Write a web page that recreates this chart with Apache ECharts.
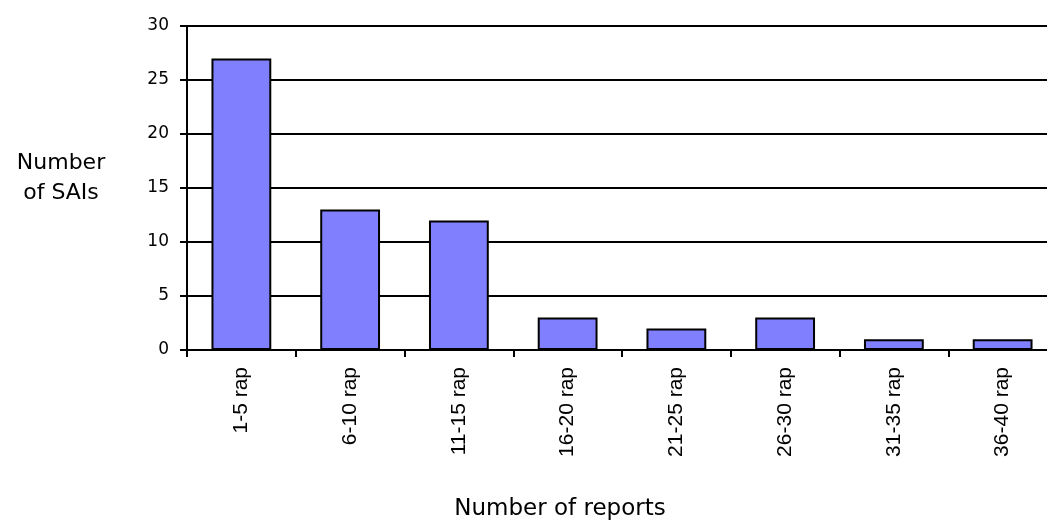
<!DOCTYPE html>
<html>
<head>
<meta charset="utf-8">
<script src="https://cdn.jsdelivr.net/npm/echarts@6/dist/echarts.min.js"></script>
<style>
  html, body { margin: 0; padding: 0; background: #fff; overflow: hidden; }
  #chart { width: 1057px; height: 524px; }
</style>
</head>
<body>
<div id="chart"></div>
<script>
// report ranges and number of SAIs in each
const categories = ['1-5 rap', '6-10 rap', '11-15 rap', '16-20 rap', '21-25 rap', '26-30 rap', '31-35 rap', '36-40 rap'];
const counts = [27, 13, 12, 3, 2, 3, 1, 1];

const chart = echarts.init(document.getElementById('chart'));
const wide = '"DejaVu Sans", sans-serif';
const narrow = '"Liberation Sans", Arial, sans-serif';

const option = {
  animation: false,
  backgroundColor: '#fff',
  grid: { left: 187, top: 26, bottom: 174, right: 0, containLabel: false },
  graphic: [
    {
      // y axis title, sits left of the tick labels
      type: 'text',
      x: 61, y: 178,
      style: {
        text: 'Number\nof SAIs',
        textAlign: 'center', textVerticalAlign: 'middle',
        font: '22px ' + wide, fill: '#000', lineHeight: 30
      }
    },
    {
      // x axis title
      type: 'text',
      x: 560, y: 509,
      style: {
        text: 'Number of reports',
        textAlign: 'center', textVerticalAlign: 'middle',
        font: '23px ' + wide, fill: '#000'
      }
    }
  ],
  xAxis: {
    type: 'category',
    data: categories,
    axisLine: { lineStyle: { color: '#000', width: 2 } },
    axisTick: { show: true, length: 7, lineStyle: { color: '#000', width: 2 } },
    axisLabel: { rotate: 90, margin: 17, fontSize: 21, fontFamily: narrow, color: '#000' }
  },
  yAxis: {
    type: 'value',
    min: 0, max: 30, interval: 5,
    axisLine: { show: true, lineStyle: { color: '#000', width: 2 } },
    axisTick: { show: true, length: 7, lineStyle: { color: '#000', width: 2 } },
    axisLabel: { margin: 18, fontSize: 17, fontFamily: wide, color: '#000' },
    splitLine: { show: true, lineStyle: { color: '#000', width: 2 } }
  },
  series: [{
    type: 'bar',
    data: counts,
    barWidth: '55%',
    itemStyle: { color: '#8080ff', borderColor: '#000', borderWidth: 2 }
  }]
};

chart.setOption(option);
</script>
</body>
</html>
